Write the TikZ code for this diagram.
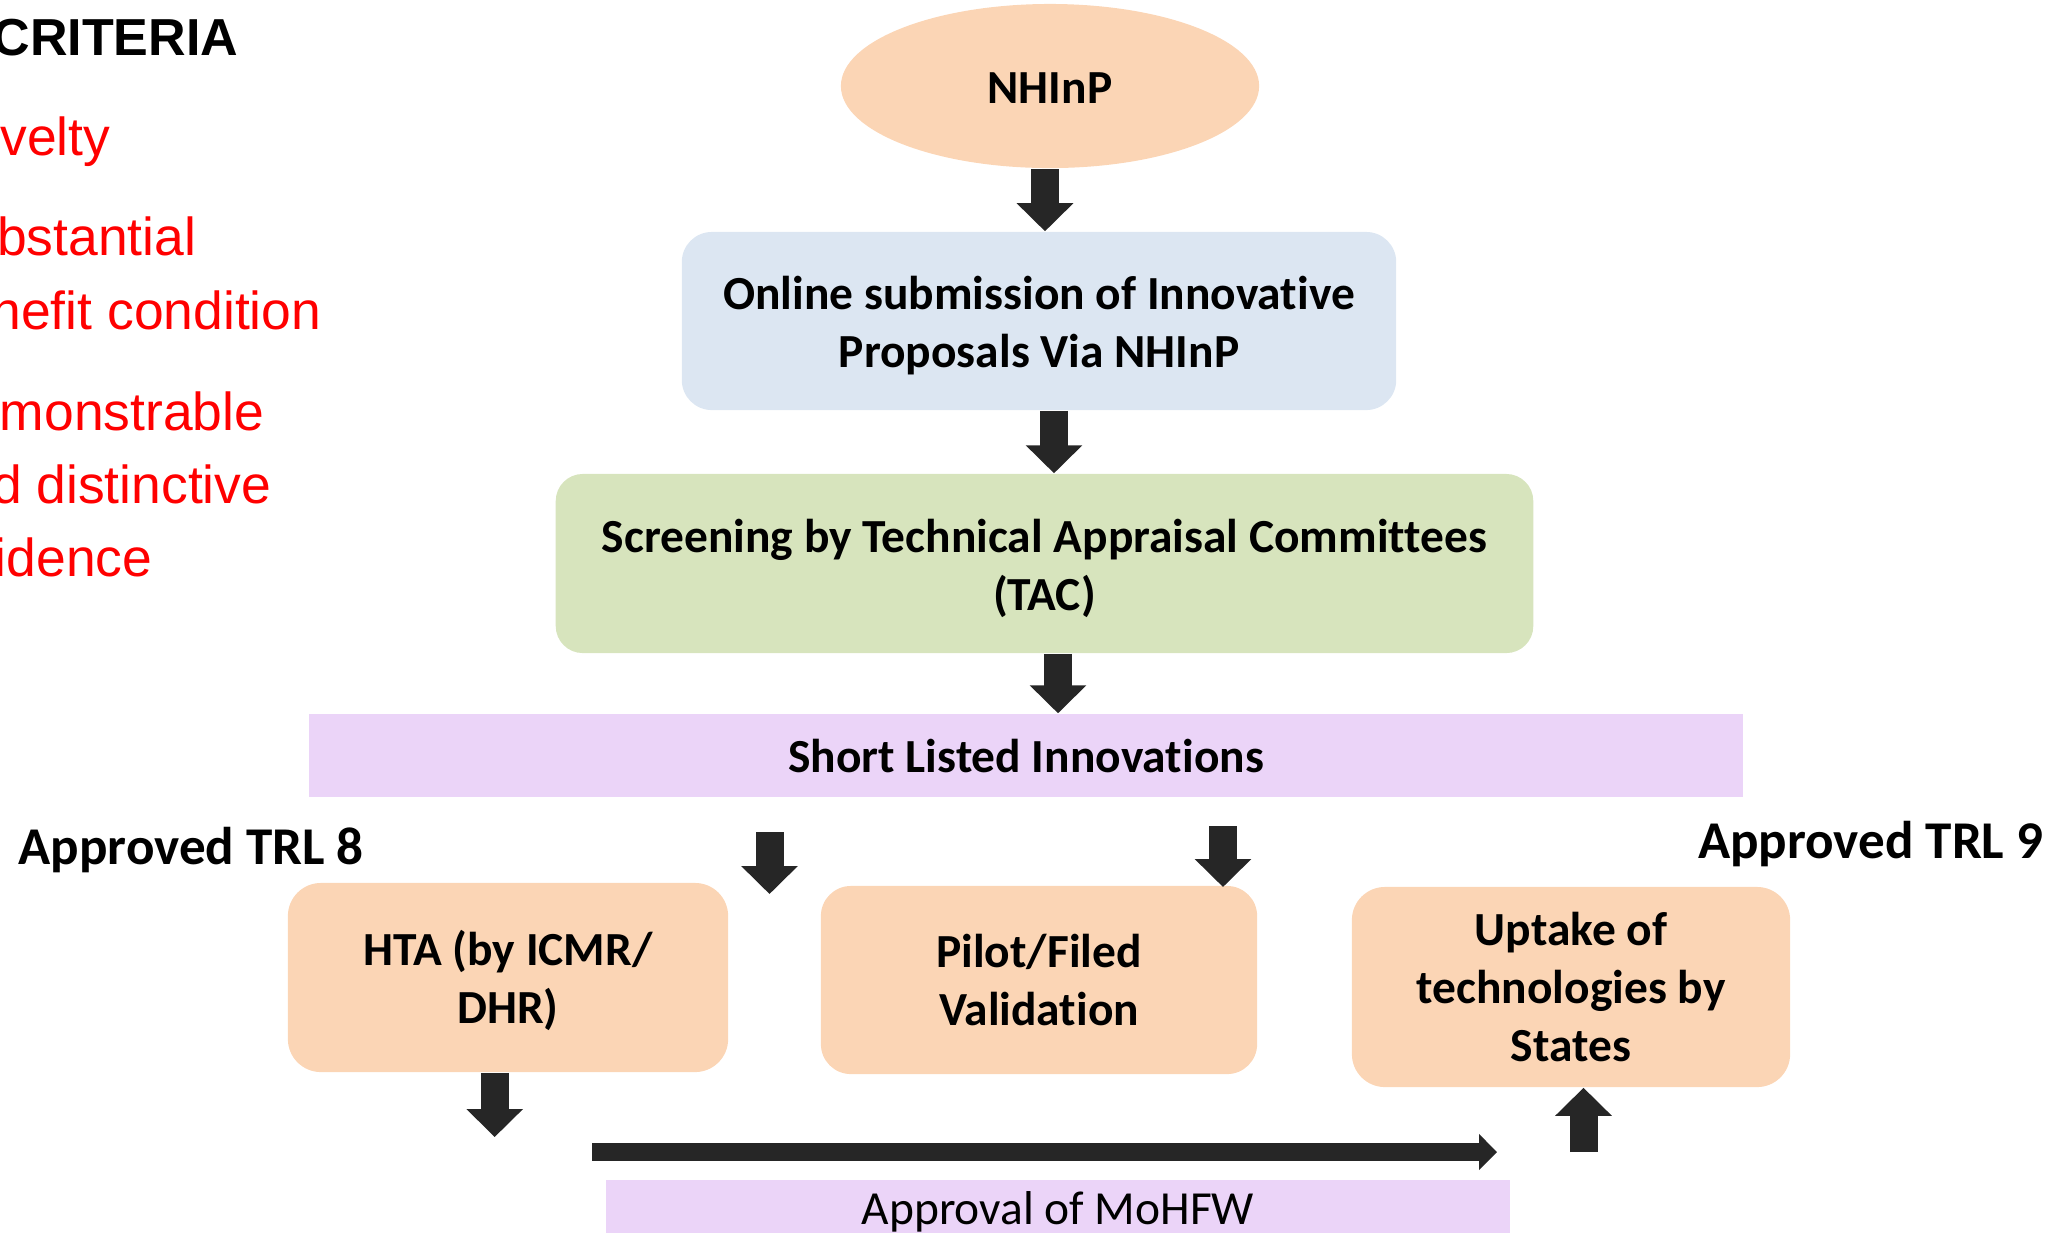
\documentclass[tikz,border=0pt]{standalone}
\usepackage{fontspec}
\setmainfont{Carlito}[Ligatures=CommonOff]
\newfontfamily\arialfont{Liberation Sans}
\usetikzlibrary{shapes.geometric,arrows.meta}
\definecolor{peach}{HTML}{FBD5B5}
\definecolor{bluebox}{HTML}{DCE6F2}
\definecolor{greenbox}{HTML}{D7E4BD}
\definecolor{lav}{HTML}{EBD4F8}
\definecolor{arrowc}{HTML}{262626}
\definecolor{redtxt}{HTML}{FF0000}
\newcommand{\bxfont}{\bfseries\fontsize{13.5}{16.5}\selectfont}
\newcommand{\rgfont}{\fontsize{13.5}{16.5}\selectfont}
\newcommand{\tlfont}{\bfseries\fontsize{15.1}{18}\selectfont}
\newcommand{\rdfont}{\arialfont\fontsize{15.2}{21}\selectfont}
\newcommand{\crfont}{\arialfont\bfseries\fontsize{14.8}{18}\selectfont}
\newcommand{\lowstrut}[1]{\rule{0pt}{#1}}
\tikzset{
  fbox/.style={rectangle, rounded corners=0.3cm, inner sep=0pt, align=center, font=\bxfont},
  lbar/.style={rectangle, fill=lav, inner sep=0pt, font=\bxfont},
  blk/.style={line width=0.28cm, draw=arrowc, -{Triangle[width=0.55cm,length=0.28cm]}},
  hblk/.style={line width=0.18cm, draw=arrowc, -{Triangle[width=0.35cm,length=0.18cm]}},
  redlab/.style={anchor=base east, inner sep=0pt, text=redtxt, font=\rdfont},
  plain/.style={inner sep=0pt}
}
\begin{document}
\begin{tikzpicture}[x=0.01cm,y=-0.01cm]
\useasboundingbox (0,0) rectangle (2061,1232);
\clip (0,0) rectangle (2061,1232);

% left criteria text
\node[plain, anchor=base east, font=\crfont] (crit) at (239,55) {CRITERIA};
\node[redlab] (r1) at (111,155) {velty};
\node[redlab] (r2) at (197,255) {bstantial};
\node[redlab] (r3) at (322,329) {nefit condition};
\node[redlab] (r4) at (265,430) {monstrable};
\node[redlab] (r5) at (272,503) {d distinctive};
\node[redlab] (r6) at (153,576) {idence};

% flow nodes
\node[ellipse, fill=peach, minimum width=4.18cm, minimum height=1.64cm, inner sep=0pt, font=\bxfont] (nhinp) at (1050,86) {\lowstrut{10pt}NHInP};
\node[fbox, fill=bluebox, minimum width=7.14cm, minimum height=1.78cm] (online) at (1039,321) {\lowstrut{12.2pt}Online submission of Innovative\\Proposals Via NHInP};
\node[fbox, fill=greenbox, minimum width=9.77cm, minimum height=1.79cm, rounded corners=0.27cm] (tac) at (1044.5,563.5) {\lowstrut{12.2pt}Screening by Technical Appraisal Committees\\(TAC)};
\node[lbar, minimum width=14.34cm, minimum height=0.83cm] (short) at (1026,755.5) {Short Listed Innovations};

\node[plain, anchor=base west, font=\tlfont] (trl8) at (18,864) {Approved TRL 8};
\node[plain, anchor=base east, font=\tlfont] (trl9) at (2044,858) {Approved TRL 9};

\node[fbox, fill=peach, minimum width=4.40cm, minimum height=1.89cm, rounded corners=0.33cm] (hta) at (508,977.5) {\lowstrut{11.6pt}HTA (by ICMR/\\DHR)};
\node[fbox, fill=peach, minimum width=4.36cm, minimum height=1.88cm] (pilot) at (1039,980) {Pilot/Filed\\Validation};
\node[fbox, fill=peach, minimum width=4.38cm, minimum height=2.00cm, rounded corners=0.33cm] (uptake) at (1571,987) {Uptake of\\technologies by\\States};

\node[lbar, minimum width=9.04cm, minimum height=0.7cm, anchor=north] (mohfw) at (1058,1179) {};
\node[plain, anchor=base, font=\rgfont] (mohfwtxt) at (1058,1224) {Approval of MoHFW};

% connectors
\draw[blk] ([xshift=-0.05cm]nhinp.south) -- ([xshift=-0.05cm]nhinp.south |- online.north);
\draw[blk] ([xshift=0.15cm]online.south) -- ([xshift=0.15cm]online.south |- tac.north);
\draw[blk] ([xshift=0.135cm]tac.south) -- ([xshift=0.135cm]tac.south |- short.north);

\coordinate (a4s) at (769.5,832);
\coordinate (a4e) at (769.5,894);
\draw[blk] (a4s) -- (a4e);
\coordinate (a5s) at (1223,826);
\coordinate (a5e) at (1223,887);
\draw[blk] (a5s) -- (a5e);

\coordinate (a6e) at (494.7,1137);
\draw[blk] ([xshift=-0.133cm]hta.south) -- ([xshift=-0.133cm]hta.south |- a6e);

\coordinate (hs) at (592,1152);
\coordinate (he) at (1497,1152);
\draw[hblk] (hs) -- (he);

\coordinate (us) at (1583.5,1152);
\draw[blk] (us) -- (us |- uptake.south);
\end{tikzpicture}
\end{document}
